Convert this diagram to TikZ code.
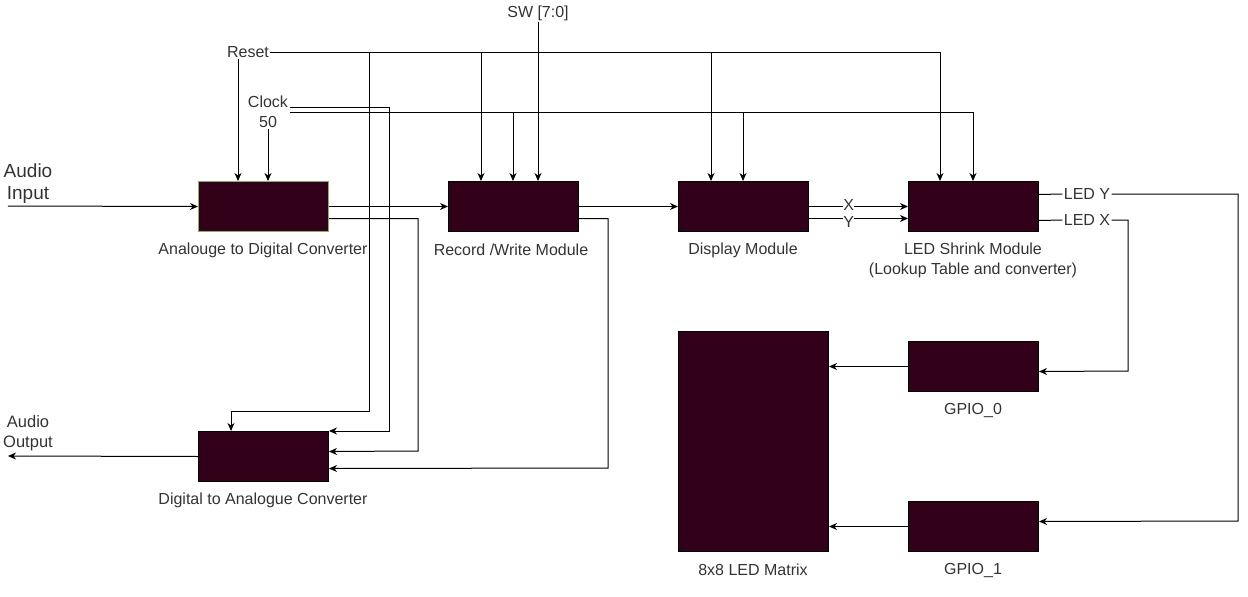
\documentclass[tikz,border=0pt]{standalone}
\usepackage{fontspec}
\setmainfont{Liberation Sans}
\usetikzlibrary{arrows.meta}
\definecolor{blockfill}{RGB}{51,0,26}
\definecolor{txtgray}{RGB}{51,51,51}
\definecolor{adcgreen}{RGB}{130,179,102}

\begin{document}
\begin{tikzpicture}[x=1pt,y=-1pt,line width=1pt,
  block/.style={draw=black,fill=blockfill,minimum width=130pt,minimum height=50pt,inner sep=0pt,anchor=north west},
  caption/.style={text=txtgray,font=\fontsize{16}{20}\selectfont,align=center,inner sep=1pt},
  lbl/.style={caption,fill=white,inner sep=0pt},
  sig/.style={-{Stealth[length=8pt,width=7pt,inset=2.5pt]}}]
\useasboundingbox (0,0) rectangle (1248,597);

% Blocks
\node[block,draw=adcgreen] (adc) at (198,181) {};
\node[block] (rw) at (448,181) {};
\node[block] (disp) at (678,181) {};
\node[block] (shrink) at (908,181) {};
\node[block] (dac) at (198,431) {};
\node[block,minimum width=150pt,minimum height=220pt] (matrix) at (678,331) {};
\node[block] (gpio0) at (908,341) {};
\node[block] (gpio1) at (908,501) {};

% Block captions
\node[caption] (adclbl) at (263,250) {Analouge to Digital Converter};
\node[caption] (rwlbl) at (511,250) {Record /Write Module};
\node[caption] (displbl) at (743,250) {Display Module};
\node[caption] (shrinklbl) at (973,260) {LED Shrink Module\\(Lookup Table and converter)};
\node[caption] (daclbl) at (263,500) {Digital to Analogue Converter};
\node[caption] (matrixlbl) at (753,570) {8x8 LED Matrix};
\node[caption] (gpio0lbl) at (973,410) {GPIO\_0};
\node[caption] (gpio1lbl) at (973,570) {GPIO\_1};

% Signal names
\node[caption,font=\fontsize{19}{22}\selectfont] (ain) at (28,184) {Audio\\Input};
\node[caption,font=\fontsize{16.5}{20}\selectfont] (aout) at (28,433) {Audio\\Output};
\node[caption] (rst) at (248,52) {Reset};
\node[caption] (clk) at (268,112) {Clock\\50};
\node[caption] (sw) at (538,13) {SW [7:0]};
\node[caption] (ledy) at (1087,194) {LED Y};
\node[caption] (ledx) at (1087,220) {LED X};

% Input points on the blocks
\coordinate (adcR) at ([xshift=40pt]adc.north west);
\coordinate (adcC) at ([xshift=70pt]adc.north west);
\coordinate (rwR) at ([xshift=33pt]rw.north west);
\coordinate (rwC) at ([xshift=65pt]rw.north west);
\coordinate (rwS) at ([xshift=90pt]rw.north west);
\coordinate (dispR) at ([xshift=33pt]disp.north west);
\coordinate (dispC) at ([xshift=65pt]disp.north west);
\coordinate (shrinkR) at ([xshift=32pt]shrink.north west);
\coordinate (shrinkC) at ([xshift=65pt]shrink.north west);
\coordinate (dacR) at ([xshift=33pt]dac.north west);
\coordinate (clkA) at ([yshift=5pt]clk.east);
\coordinate (ainL) at (8,206);
\coordinate (aoutL) at (8,456);

% Bend points
\coordinate (rstX) at (369,411);
\coordinate (clkX) at (389,431);
\coordinate (adcX) at (418,451);
\coordinate (rwX) at (608,468);
\coordinate (ledyX) at (1238,521);
\coordinate (ledxX) at (1128,371);

% Audio in and out
\draw[sig] (ainL) -- (adc.west);
\draw[sig] (dac.west) -- (aoutL);

% Reset bus
\draw (rst.east) -- (rst.east -| shrinkR);
\draw[sig] (rst.south -| adcR) -- (adcR);
\draw[sig] (rst.east -| rwR) -- (rwR);
\draw[sig] (rst.east -| dispR) -- (dispR);
\draw[sig] (rst.east -| shrinkR) -- (shrinkR);
\draw[sig] (rst.east -| rstX) -- (rstX) -| (dacR);

% Clock bus
\draw (clk.east) -- (clk.east -| shrinkC);
\draw[sig] (clk.south -| adcC) -- (adcC);
\draw[sig] (clk.east -| rwC) -- (rwC);
\draw[sig] (clk.east -| dispC) -- (dispC);
\draw[sig] (clk.east -| shrinkC) -- (shrinkC);
\draw[sig] (clkA) -| (clkX) -- (dac.north east);

% Switches
\draw[sig] (sw.south) -- (rwS);

% Data path
\draw[sig] (adc.east) -- (rw.west);
\draw[sig] ([yshift=-12pt]adc.east) -| (adcX) -- ([yshift=5pt]dac.east);
\draw[sig] (rw.east) -- (disp.west);
\draw[sig] ([yshift=-12pt]rw.east) -| (rwX) -- ([yshift=-12pt]dac.east);
\draw[sig] (disp.east) -- node[lbl,pos=0.4,yshift=1.5pt] {X} (shrink.west);
\draw[sig] ([yshift=-12pt]disp.east) -- node[lbl,pos=0.4,yshift=-3pt] {Y} ([yshift=-12pt]shrink.west);

% LED outputs
\draw ([yshift=12pt]shrink.east) -- (ledy.west);
\draw[sig] (ledy.east) -| (ledyX) -- ([yshift=5pt]gpio1.east);
\draw ([yshift=-14pt]shrink.east) -- (ledx.west);
\draw[sig] (ledx.east) -| (ledxX) -- ([yshift=-5pt]gpio0.east);
\draw[sig] (gpio0.west) -- (gpio0.west -| matrix.east);
\draw[sig] (gpio1.west) -- (gpio1.west -| matrix.east);
\end{tikzpicture}
\end{document}
